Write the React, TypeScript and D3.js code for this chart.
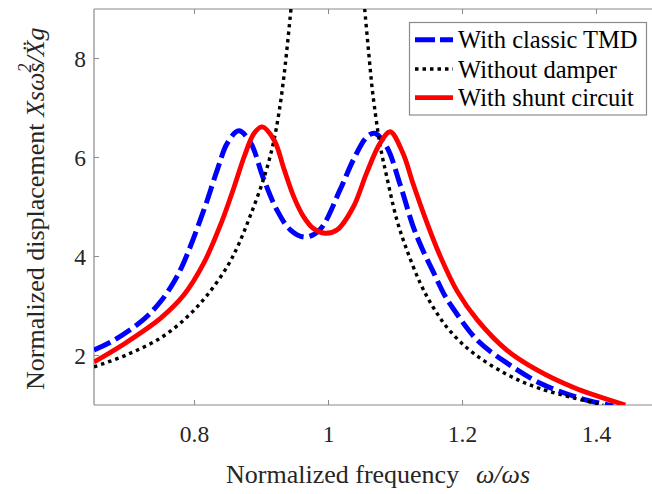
import React from 'react';
import * as d3 from 'd3';

// ---- data ----
const tmdFreq = [0.65, 0.68, 0.725, 0.75, 0.769, 0.784, 0.814, 0.834, 0.849, 0.866, 0.884, 0.902, 0.923, 0.943, 0.965, 0.987, 1.017, 1.037, 1.057, 1.069, 1.087, 1.107, 1.126, 1.14, 1.156, 1.174, 1.186, 1.222, 1.266, 1.316, 1.375, 1.425];
const tmdAmp = [2.11, 2.31, 2.74, 3.1, 3.48, 3.88, 4.94, 5.75, 6.29, 6.54, 6.29, 5.61, 4.94, 4.54, 4.39, 4.54, 5.34, 5.95, 6.41, 6.49, 6.21, 5.45, 4.62, 4.15, 3.7, 3.2, 2.95, 2.31, 1.85, 1.44, 1.14, 0.98];

const noDamperFreq = [0.65, 0.7, 0.75, 0.789, 0.819, 0.849, 0.866, 0.884, 0.904, 0.917, 0.926, 0.934, 0.944, 1.0, 1.054, 1.062, 1.066, 1.077, 1.087, 1.102, 1.117, 1.137, 1.156, 1.181, 1.216, 1.266, 1.316, 1.41];
const noDamperAmp = [1.77, 2.02, 2.36, 2.78, 3.22, 3.8, 4.25, 4.85, 5.6, 6.25, 6.9, 7.7, 9.0, NaN, 9.0, 7.83, 7.3, 6.25, 5.61, 4.74, 4.13, 3.46, 2.98, 2.5, 2.05, 1.62, 1.33, 1.0];

const shuntFreq = [0.65, 0.699, 0.75, 0.784, 0.814, 0.84, 0.859, 0.874, 0.889, 0.901, 0.919, 0.934, 0.949, 0.963, 0.977, 0.995, 1.013, 1.037, 1.057, 1.077, 1.092, 1.111, 1.126, 1.147, 1.166, 1.192, 1.222, 1.266, 1.311, 1.365, 1.443];
const shuntAmp = [1.87, 2.27, 2.76, 3.22, 3.87, 4.68, 5.4, 6.01, 6.49, 6.62, 6.35, 5.75, 5.18, 4.8, 4.57, 4.47, 4.54, 5.0, 5.69, 6.29, 6.52, 6.09, 5.48, 4.68, 4.03, 3.3, 2.72, 2.11, 1.71, 1.36, 1.0];

const xTicks = [0.8, 1, 1.2, 1.4];
const yTicks = [2, 4, 6, 8];
const legendLabels = ['With classic TMD', 'Without damper', 'With shunt circuit'];

const W = 652;
const H = 494;
const FONT = '"Liberation Serif", "Times New Roman", Times, serif';

type Pt = [number, number];
const zip = (a: number[], b: number[]): Pt[] => a.map((v, i) => [v, b[i]]);

export default function App() {
  const x = d3.scaleLinear().domain([0.65, 1.5]).range([94, 663.5]);
  const y = d3.scaleLinear().domain([1, 9]).range([405, 9]);
  const [x0, x1] = x.range();
  const [yb, yt] = y.range();

  const line = d3
    .line<Pt>()
    .defined((d) => !isNaN(d[1]))
    .x((d) => x(d[0]))
    .y((d) => y(d[1]))
    .curve(d3.curveCatmullRom.alpha(0.5));

  const series = [
    { data: zip(tmdFreq, tmdAmp), color: '#0000ff', width: 5, dash: '18 6' },
    { data: zip(noDamperFreq, noDamperAmp), color: '#000000', width: 3.4, dash: '3.5 4' },
    { data: zip(shuntFreq, shuntAmp), color: '#ff0000', width: 4.8, dash: undefined as string | undefined },
  ];

  const axisColor = '#8a8a8a';
  const textColor = '#262626';
  const legendRowY = [39.7, 69, 97.7];

  return (
    <svg
      width={W}
      height={H}
      style={{ position: 'absolute', left: 0, top: 0, background: '#fff' }}
      fontFamily={FONT}
    >
      <rect x={0} y={0} width={W} height={H} fill="#fff" />
      <defs>
        <clipPath id="plotClip">
          <rect x={x0} y={yt} width={x1 - x0} height={yb - yt} />
        </clipPath>
      </defs>

      {/* axes box */}
      <line x1={x0} x2={x1} y1={yb} y2={yb} stroke={axisColor} strokeWidth={1.2} />
      <line x1={x0} x2={x1} y1={yt} y2={yt} stroke={axisColor} strokeWidth={1.2} />
      <line x1={x0} x2={x0} y1={yt} y2={yb} stroke={axisColor} strokeWidth={1.2} />

      {/* x ticks */}
      {xTicks.map((t) => (
        <g key={'xt' + t}>
          <line x1={x(t)} x2={x(t)} y1={yb} y2={yb - 5} stroke={axisColor} strokeWidth={1} />
          <line x1={x(t)} x2={x(t)} y1={yt} y2={yt + 5} stroke={axisColor} strokeWidth={1} />
          <text x={x(t)} y={442} textAnchor="middle" fontSize={23.5} fill={textColor}>
            {String(t)}
          </text>
        </g>
      ))}

      {/* y ticks */}
      {yTicks.map((t) => (
        <g key={'yt' + t}>
          <line x1={x0} x2={x0 + 5} y1={y(t)} y2={y(t)} stroke={axisColor} strokeWidth={1} />
          <text x={86} y={y(t) + 8} textAnchor="end" fontSize={23.5} fill={textColor}>
            {String(t)}
          </text>
        </g>
      ))}

      {/* curves */}
      <g clipPath="url(#plotClip)">
        {series.map((s, i) => (
          <path
            key={i}
            d={line(s.data) || ''}
            fill="none"
            stroke={s.color}
            strokeWidth={s.width}
            strokeDasharray={s.dash}
            strokeLinecap="butt"
            strokeLinejoin="round"
          />
        ))}
      </g>

      {/* legend */}
      <rect x={409.5} y={22.5} width={237} height={92.5} fill="#fff" stroke="#8a8a8a" strokeWidth={1.2} />
      {series.map((s, i) => (
        <g key={'lg' + i}>
          <line
            x1={415}
            x2={453}
            y1={legendRowY[i]}
            y2={legendRowY[i]}
            stroke={s.color}
            strokeWidth={s.width}
            strokeDasharray={i === 0 ? '20 5' : s.dash}
          />
          <text x={458} y={legendRowY[i] + 8.5} fontSize={24.5} fill="#000">
            {legendLabels[i]}
          </text>
        </g>
      ))}

      {/* x label */}
      <text x={226} y={483} fontSize={26} fill={textColor}>
        Normalized frequency
      </text>
      <text x={476} y={483} fontSize={26} fontStyle="italic" fill={textColor}>
        ω/ωs
      </text>

      {/* y label */}
      <text transform="translate(44,390) rotate(-90)" fontSize={26} fill={textColor}>
        <tspan fontSize={26}>Normalized displacement </tspan>
        <tspan fontSize={26} fontStyle="italic">Xsωs</tspan>
        <tspan fontStyle="italic" fontSize={18} dx={-10} dy={-13}>2</tspan>
        <tspan fontStyle="italic" fontSize={26} dy={13}>/X{'\u0308'}g</tspan>
      </text>
    </svg>
  );
}
